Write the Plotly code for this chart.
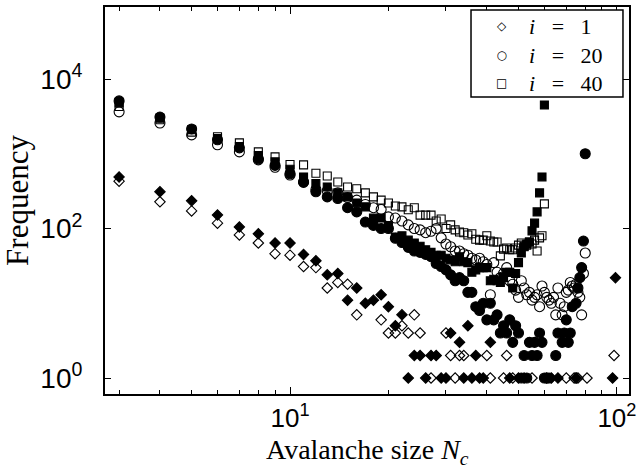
import plotly.graph_objects as go

# ---------------- data ----------------
# i = 1, open diamonds
n_i1_open = [3, 4, 5, 6, 7, 8, 9, 10, 11, 12, 13, 14, 15, 16, 19, 20, 21, 22, 23, 24,
             25, 27, 30, 31, 32, 33, 34, 40, 41, 45, 46, 48, 55, 70, 74, 75, 76, 81, 98]
f_i1_open = [430, 228, 172, 118, 82, 64, 46, 44, 31, 30, 16, 19, 18, 7, 6, 4, 4, 5, 4, 7,
             4, 1, 4, 2, 1, 2, 2, 2, 1, 1, 2, 1, 1, 1, 1, 1, 1, 1, 2]

# i = 1, filled diamonds
n_i1_fill = [3, 4, 5, 6, 7, 8, 9, 10, 11, 12, 13, 14, 15, 16, 17, 18, 19, 20, 21, 22,
             23, 24, 25, 26, 27, 28, 29, 30, 31, 33, 34, 35, 36, 37, 38, 39, 41, 47, 50,
             52, 61, 63, 66, 75, 97, 99]
f_i1_fill = [490, 310, 235, 152, 105, 85, 64, 64, 45, 37, 24, 25, 11, 16, 10, 11, 13, 9, 5, 7,
             1, 2, 2, 1, 2, 2, 1, 1, 4, 3, 1, 5, 1, 2, 1, 1, 3, 1, 1,
             1, 1, 1, 1, 1, 1, 22]

# i = 20, open circles
n_i20_open = list(range(3, 81))
f_i20_open = [3640, 2580, 1790, 1320, 1060, 830, 660, 520, 420, 330, 320, 300, 260, 240, 210,
              190, 180, 143, 138, 126, 112, 100, 96, 88, 92, 100, 75, 62, 57, 50, 50, 46, 44,
              40, 38, 40, 36, 33, 13, 35, 26, 22, 25, 30, 20, 18, 15, 12, 20, 16, 13, 14, 11,
              12, 13, 9, 17, 14, 12, 11, 10, 12, 7, 16, 10, 7, 9, 14, 15, 19, 17, 16, 18, 14,
              12, 7, 25, 47]

# i = 20, filled circles
n_i20_fill = [3, 4, 5, 6, 7, 8, 9, 10, 11, 12, 13, 14, 15, 16, 17, 18, 19, 20, 21, 22,
              23, 24, 25, 26, 27, 28, 29, 30, 31, 32, 33, 34, 35, 36, 37, 38, 39, 40, 41, 42,
              43, 44, 45, 46, 47, 48, 49, 50, 51, 52, 53, 54, 55, 56, 57, 58, 59, 60, 61, 62,
              65, 66, 68, 69, 70, 71, 72, 73, 75, 76, 77, 78, 79, 80]
f_i20_fill = [5100, 3100, 2150, 1540, 1200, 855, 700, 540, 415, 310, 265, 252, 190, 167, 122,
              110, 100, 100, 74, 65, 56, 50, 48, 45, 42, 34, 31, 28, 24, 20, 22, 20, 14, 14,
              9, 8, 10, 6, 10, 6, 7, 4, 5, 4, 6, 3, 5, 4, 1, 2, 1, 3, 2, 3, 2, 4, 3, 1, 1, 1,
              2, 4, 3, 4, 6, 3, 4, 9, 10, 16, 22, 30, 68, 1000]

# i = 40, open squares
n_i40_open = list(range(3, 61))
f_i40_open = [4300, 2850, 1950, 1690, 1400, 1060, 910, 720, 710, 550, 505, 420, 360, 340, 300,
              265, 240, 220, 200, 195, 178, 190, 151, 151, 151, 126, 134, 100, 112, 96, 90, 88,
              82, 85, 72, 70, 70, 80, 68, 66, 66, 43, 53, 55, 52, 52, 55, 60, 64, 58, 60, 66,
              62, 70, 50, 75, 80, 214]

# i = 40, filled squares
n_i40_fill = list(range(3, 61))
f_i40_fill = [4800, 3000, 2100, 1600, 1250, 950, 780, 620, 490, 400, 360, 300, 265, 220, 195,
              138, 138, 110, 77, 80, 70, 64, 58, 52, 48, 44, 44, 40, 38, 36, 42, 36, 35, 26,
              28, 30, 30, 30, 20, 21, 20, 19, 22, 26, 26, 16, 25, 35, 47, 57, 62, 66, 93, 118,
              167, 300, 490, 4500]

x_tick_vals = [10, 100]
x_tick_text = ["10<sup>1</sup>", "10<sup>2</sup>"]
x_minor_vals = [3, 4, 5, 6, 7, 8, 9, 20, 30, 40, 50, 60, 70, 80, 90]
y_tick_vals = [1, 100, 10000]
y_tick_text = ["10<sup>0</sup>", "10<sup>2</sup>", "10<sup>4</sup>"]

x_title = "Avalanche size <i>N<sub>c</sub></i>"
y_title = "Frequency"

legend_symbols = ["\u25C7", "\u25CB", "\u25A1"]
gap = "\u00a0" * 3
legend_labels = ["<i>i</i>" + gap + "=" + gap + "1",
                 "<i>i</i>" + gap + "=" + gap + "20",
                 "<i>i</i>" + gap + "=" + gap + "40"]

# ---------------- figure ----------------
fig = go.Figure()
line_w = 1.1

def add(x, y, symbol, size, name):
    fig.add_trace(go.Scatter(
        x=x, y=y, mode="markers", name=name, showlegend=False,
        marker=dict(symbol=symbol, size=size, color="black",
                    line=dict(color="black", width=line_w)),
    ))

add(n_i40_open, f_i40_open, "square-open", 8, "i = 40")
add(n_i40_fill, f_i40_fill, "square", 8, "i = 40 (filled)")
add(n_i20_open, f_i20_open, "circle-open", 10, "i = 20")
add(n_i20_fill, f_i20_fill, "circle", 10, "i = 20 (filled)")
add(n_i1_open, f_i1_open, "diamond-open", 8, "i = 1")
add(n_i1_fill, f_i1_fill, "diamond", 8, "i = 1 (filled)")

x_tick_font = dict(family="Liberation Sans, Arial, sans-serif", size=26, color="black")
y_tick_font = dict(family="Liberation Sans, Arial, sans-serif", size=28, color="black")
title_font = dict(family="Liberation Serif, Times New Roman, serif", size=28, color="black")
y_title_font = dict(family="Liberation Serif, Times New Roman, serif", size=31, color="black")

# legend panel in the upper-right corner
box_x0, box_x1, box_y0, box_y1 = 0.6985, 0.9885, 0.7674, 0.9922
fig.add_shape(type="rect", xref="paper", yref="paper",
              x0=box_x0, x1=box_x1, y0=box_y0, y1=box_y1,
              fillcolor="white", line=dict(color="black", width=1.5), layer="above")
legend_mid_y = 0.8765
fig.add_annotation(
    xref="paper", yref="paper", x=0.756, y=legend_mid_y,
    text="<br>".join('<span style="font-size:12px">%s</span>' % s for s in legend_symbols),
    showarrow=False, xanchor="center", yanchor="middle", align="center",
    font=dict(family="DejaVu Sans", size=22, color="black"))
fig.add_annotation(
    xref="paper", yref="paper", x=0.806, y=legend_mid_y,
    text="<br>".join(legend_labels),
    showarrow=False, xanchor="left", yanchor="middle", align="left",
    font=dict(family="Liberation Serif, Times New Roman, serif", size=22, color="black"))

# x-axis title placed just under the tick labels
fig.add_annotation(
    xref="paper", yref="paper", x=0.5, y=-0.149, text=x_title,
    showarrow=False, xanchor="center", yanchor="middle", font=title_font)

fig.update_layout(
    width=639, height=468,
    margin=dict(l=105, r=10, t=7, b=74),
    plot_bgcolor="white", paper_bgcolor="white",
    showlegend=False,
)

fig.update_xaxes(
    type="log", range=[0.434, 2.037], automargin=False,
    showline=True, linecolor="black", linewidth=2, mirror="ticks",
    ticks="inside", ticklen=7, tickwidth=1, tickcolor="black",
    tickmode="array", tickvals=x_tick_vals, ticktext=x_tick_text,
    tickfont=x_tick_font, ticklabelstandoff=0, ticklabeloverflow="allow",
    minor=dict(tickmode="array", tickvals=x_minor_vals, ticks="inside",
               ticklen=4, tickwidth=1, tickcolor="black", showgrid=False),
    showgrid=False, zeroline=False,
)
fig.update_yaxes(
    type="log", range=[-0.214, 4.964], automargin=False,
    showline=True, linecolor="black", linewidth=2, mirror="ticks",
    ticks="inside", ticklen=6, tickwidth=1, tickcolor="black",
    tickmode="array", tickvals=y_tick_vals, ticktext=y_tick_text,
    tickfont=y_tick_font, ticklabelstandoff=15,
    showgrid=False, zeroline=False,
    title=dict(text=y_title, font=y_title_font, standoff=4),
)

fig.write_html("out.html")
